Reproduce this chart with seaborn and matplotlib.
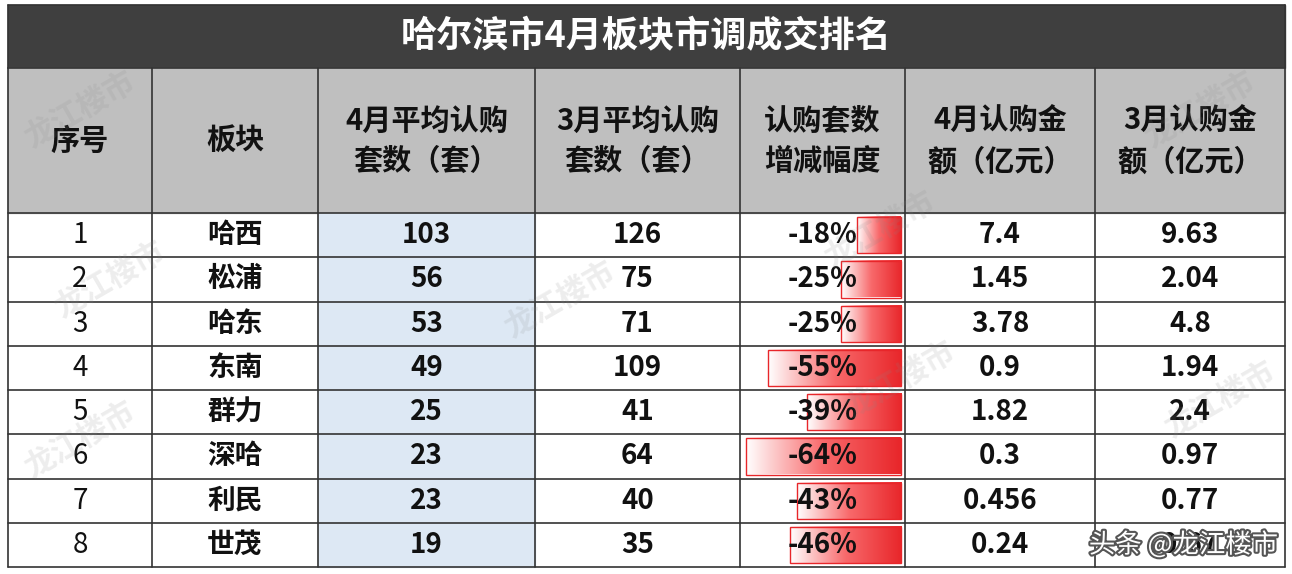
import matplotlib
matplotlib.use("Agg")
import matplotlib.pyplot as plt
import matplotlib.patheffects as pe
import matplotlib.colors as mcolors
import seaborn as sns
import numpy as np

sns.set_theme(style="white")
plt.rcParams['font.family'] = ['Noto Sans CJK SC', 'DejaVu Sans']

title = "哈尔滨市4月板块市调成交排名"
headers = ["序号", "板块", "4月平均认购\n套数（套）", "3月平均认购\n套数（套）", "认购套数\n增减幅度", "4月认购金\n额（亿元）", "3月认购金\n额（亿元）"]
ranks = ["1", "2", "3", "4", "5", "6", "7", "8"]
areas = ["哈西", "松浦", "哈东", "东南", "群力", "深哈", "利民", "世茂"]
apr_units = [103, 56, 53, 49, 25, 23, 23, 19]
mar_units = [126, 75, 71, 109, 41, 64, 40, 35]
change_pct = [-18, -25, -25, -55, -39, -64, -43, -46]
apr_amount = ["7.4", "1.45", "3.78", "0.9", "1.82", "0.3", "0.456", "0.24"]
mar_amount = ["9.63", "2.04", "4.8", "1.94", "2.4", "0.97", "0.77", "0.67"]

fig = plt.figure(figsize=(12.92, 5.74), dpi=100)
ax = fig.add_axes([0, 0, 1, 1])
ax.axis('off')

xs = [8, 152, 318, 535, 740, 905, 1095, 1285]
y_title = (5, 68); y_head = (68, 213)
row_h = (567 - 213) / 8
line_c = "#333333"

ax.add_patch(plt.Rectangle((xs[0], y_title[0]), xs[-1]-xs[0], y_title[1]-y_title[0], color="#3f3f3f", zorder=1))
ax.text((xs[0]+xs[-1])/2, 37, title, color="white", fontsize=26, fontweight="bold", ha="center", va="center", zorder=5)
ax.add_patch(plt.Rectangle((xs[0], y_head[0]), xs[-1]-xs[0], y_head[1]-y_head[0], color="#bfbfbf", zorder=1))
for i, h in enumerate(headers):
    ax.text((xs[i]+xs[i+1])/2, 141, h, fontsize=21, fontweight="bold", ha="center", va="center", linespacing=1.45, color="#111111", zorder=5)

ax.add_patch(plt.Rectangle((xs[2], y_head[1]), xs[3]-xs[2], 8*row_h, color="#dde8f4", zorder=1))

grad = np.linspace(0, 1, 256).reshape(1, -1)
cmap = mcolors.LinearSegmentedColormap.from_list("rg", ["#ffffff", "#f8696b", "#e8262a"])
scale = 2.42
right = xs[5] - 4
for r, v in enumerate(change_pct):
    y0 = y_head[1] + r*row_h + 4
    left = right + v*scale
    ax.imshow(grad, cmap=cmap, extent=(left, right, y0 + row_h - 8, y0), aspect='auto', zorder=2)
    ax.add_patch(plt.Rectangle((left, y0), right-left, row_h-8, fill=False, edgecolor="#e8262a", lw=1, zorder=3))

cols = [ranks, areas, [str(v) for v in apr_units], [str(v) for v in mar_units],
        [f"{v}%" for v in change_pct], apr_amount, mar_amount]
for c, vals in enumerate(cols):
    for r, v in enumerate(vals):
        yc = y_head[1] + (r+0.5)*row_h
        ax.text((xs[c]+xs[c+1])/2, yc, v, fontsize=20, fontweight="normal" if c == 0 else "bold",
                ha="center", va="center", color="#111111", zorder=5)

for x in xs:
    ax.plot([x, x], [y_head[0], 567], color=line_c, lw=1.2, zorder=4)
for y in [y_title[0], y_title[1], y_head[1]] + [y_head[1] + k*row_h for k in range(1, 9)]:
    ax.plot([xs[0], xs[-1]], [y, y], color=line_c, lw=1.2, zorder=4)
ax.plot([xs[0], xs[0]], [y_title[0], y_title[1]], color=line_c, lw=1.2, zorder=4)
ax.plot([xs[-1], xs[-1]], [y_title[0], y_title[1]], color=line_c, lw=1.2, zorder=4)

for (x, y) in [(80, 110), (110, 280), (80, 440), (560, 300), (880, 230), (900, 380), (1200, 110), (1220, 400)]:
    ax.text(x, y, "龙江楼市", fontsize=22, fontweight="bold", color="#888888", alpha=0.15, rotation=30,
            ha="center", va="center", zorder=6)
ax.text(1278, 545, "头条 @龙江楼市", fontsize=19, color="white", ha="right", va="center", zorder=7,
        path_effects=[pe.withStroke(linewidth=3, foreground="#555555")])

ax.set_xlim(0, 1292); ax.set_ylim(574, 0)
fig.savefig("out.png", dpi=100, facecolor="white")
